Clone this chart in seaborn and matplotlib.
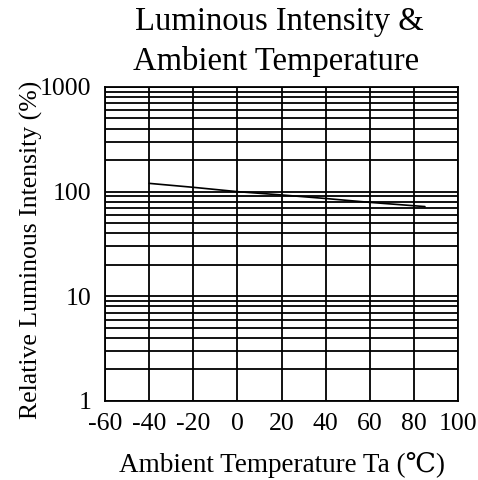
import matplotlib
matplotlib.use("Agg")
import matplotlib.pyplot as plt
import seaborn as sns
import pandas as pd
import numpy as np
from matplotlib.ticker import FixedLocator, NullFormatter, FixedFormatter

temps = [-40, -20, 0, 20, 40, 60, 85]
intensity = [120, 110, 100, 93, 86, 79, 72]
x_ticks = [-60, -40, -20, 0, 20, 40, 60, 80, 100]
y_ticks = [1, 10, 100, 1000]
y_tick_labels = ["1", "10", "100", "1000"]

sns.set_theme(style="white")
plt.rcParams['font.family'] = ['Liberation Serif', 'DejaVu Serif']

df = pd.DataFrame({"Ta": temps, "I": intensity})

fig = plt.figure(figsize=(4.78, 4.80), dpi=100)
ax = fig.add_axes([0.2197, 0.1646, 0.7385, 0.6542])

ax.set_yscale("log")
ax.set_xlim(-60, 100)
ax.set_ylim(1, 1000)

minor = [m * 10 ** e for e in range(0, 3) for m in range(2, 10)]
ax.yaxis.set_major_locator(FixedLocator(y_ticks))
ax.yaxis.set_major_formatter(FixedFormatter(y_tick_labels))
ax.yaxis.set_minor_locator(FixedLocator(minor))
ax.yaxis.set_minor_formatter(NullFormatter())
ax.set_xticks(x_ticks)
ax.set_xticklabels([str(v) for v in x_ticks])

ax.grid(True, which="both", axis="both", color="black", linewidth=1.3)
ax.set_axisbelow(True)

sns.lineplot(data=df, x="Ta", y="I", ax=ax, color="black", linewidth=1.2)

for s in ax.spines.values():
    s.set_color("black")
    s.set_linewidth(1.3)

ax.tick_params(axis="both", which="both", length=0, labelsize=18.5, colors="black")
ax.tick_params(axis="x", pad=9)
ax.tick_params(axis="y", pad=10)
ax.set_xlabel("Ambient Temperature Ta (℃)", fontsize=19.5, color="black", labelpad=12)
ax.set_ylabel("Relative Luminous Intensity (%)", fontsize=18.5, color="black", labelpad=4)
ax.yaxis.set_label_coords(-0.175, 0.48)

fig.text(0.585, 0.955, "Luminous Intensity &", ha="center", va="center", fontsize=23.5, color="black")
fig.text(0.578, 0.872, "Ambient Temperature", ha="center", va="center", fontsize=23.5, color="black")

fig.savefig("out.png", dpi=100, facecolor="white")
